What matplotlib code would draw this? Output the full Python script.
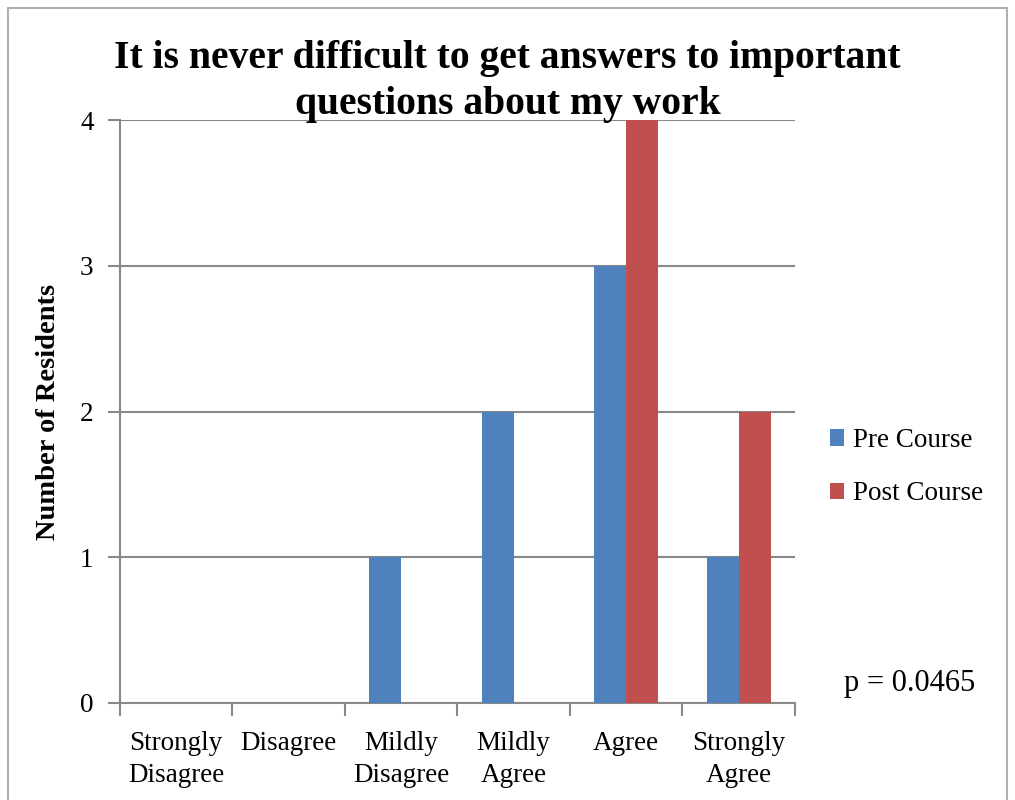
import matplotlib
matplotlib.use("Agg")

import matplotlib.pyplot as plt
import numpy as np
from matplotlib.patches import Rectangle


categories = ["Strongly\nDisagree", "Disagree", "Mildly\nDisagree",
              "Mildly\nAgree", "Agree", "Strongly\nAgree"]
pre_course = [0, 0, 1, 2, 3, 1]
post_course = [0, 0, 0, 0, 4, 2]
series_names = ["Pre Course", "Post Course"]
y_ticks = [0, 1, 2, 3, 4]

BLUE = "#4F81BD"
RED = "#C0504D"
GRID = "#888888"

plt.rcParams["font.family"] = ["Liberation Serif", "DejaVu Serif"]

fig = plt.figure(figsize=(10.15, 8), dpi=100)
ax = fig.add_axes([0.1182, 0.12125, 0.665, 0.72875])

x = np.arange(len(categories))
w = 0.285
ax.bar(x - w / 2, pre_course, width=w, color=BLUE, label=series_names[0], zorder=3)
ax.bar(x + w / 2, post_course, width=w, color=RED, label=series_names[1], zorder=3)

ax.set_xlim(-0.5, len(categories) - 0.5)
ax.set_ylim(0, 4)
ax.set_yticks(y_ticks)
ax.yaxis.grid(True, color=GRID, linewidth=1.5, zorder=0)
ax.set_axisbelow(True)

# category labels centred, tick marks on the boundaries
ax.set_xticks(np.arange(len(categories) + 1) - 0.5)
ax.set_xticklabels([])
ax.set_xticks(x, minor=True)
ax.set_xticklabels(categories, minor=True, fontsize=19.5, linespacing=1.4)
ax.tick_params(axis="x", which="minor", length=0, pad=20)
ax.tick_params(axis="x", which="major", length=9, width=1.5, color=GRID, direction="out")
ax.tick_params(axis="y", length=9, width=1.5, color=GRID, labelsize=19.5, pad=10)

for s in ["top", "right"]:
    ax.spines[s].set_visible(False)
for s in ["left", "bottom"]:
    ax.spines[s].set_color(GRID)
    ax.spines[s].set_linewidth(1.5)

ax.set_ylabel("Number of Residents", fontsize=20.5, fontweight="bold", labelpad=14)

fig.text(0.5, 0.898, "It is never difficult to get answers to important\nquestions about my work",
         ha="center", va="center", fontsize=28.5, fontweight="bold", linespacing=1.3)

leg = fig.legend(loc="center left", bbox_to_anchor=(0.804, 0.416), frameon=False,
                 fontsize=19.5, handlelength=0.55, handleheight=0.55, handletextpad=0.3,
                 labelspacing=1.05, borderpad=0)

fig.text(0.832, 0.146, "p = 0.0465", fontsize=22, va="center")

fig.patches.append(Rectangle((0.008, -0.01), 0.984, 1.0, transform=fig.transFigure,
                             fill=False, edgecolor="#b0b0b0", linewidth=1.5))

fig.savefig("out.png", dpi=100)
